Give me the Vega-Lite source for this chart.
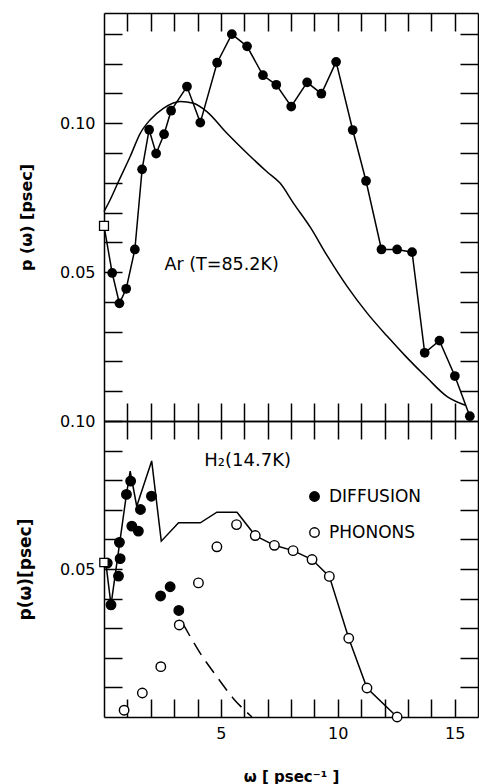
{
  "$schema": "https://vega.github.io/schema/vega-lite/v6.json",
  "padding": {"left": 16, "top": 12, "right": 1, "bottom": 0},
  "background": "white",
  "config": {
    "view": {"stroke": null},
    "font": "DejaVu Sans",
    "axis": {
      "domainColor": "black", "domainWidth": 1.5,
      "tickColor": "black", "tickWidth": 1.5, "tickSize": -18,
      "grid": false, "labelFont": "DejaVu Sans", "labelFontSize": 16,
      "labelColor": "black", "titleColor": "black", "labelPadding": 27,
      "titleFont": "DejaVu Sans", "titleFontSize": 16, "titleFontWeight": "bold"
    }
  },
  "datasets": {
    "ar_exp": [
      {"w": 0.0, "p": 0.0655, "marker": "square"},
      {"w": 0.35, "p": 0.0497, "marker": "circle"},
      {"w": 0.66, "p": 0.0395, "marker": "circle"},
      {"w": 0.95, "p": 0.0444, "marker": "circle"},
      {"w": 1.32, "p": 0.0576, "marker": "circle"},
      {"w": 1.63, "p": 0.0845, "marker": "circle"},
      {"w": 1.93, "p": 0.0978, "marker": "circle"},
      {"w": 2.23, "p": 0.0898, "marker": "circle"},
      {"w": 2.57, "p": 0.0963, "marker": "circle"},
      {"w": 2.87, "p": 0.1042, "marker": "circle"},
      {"w": 3.55, "p": 0.1123, "marker": "circle"},
      {"w": 4.12, "p": 0.1002, "marker": "circle"},
      {"w": 4.84, "p": 0.1203, "marker": "circle"},
      {"w": 5.47, "p": 0.1299, "marker": "circle"},
      {"w": 6.12, "p": 0.1258, "marker": "circle"},
      {"w": 6.80, "p": 0.1161, "marker": "circle"},
      {"w": 7.37, "p": 0.1129, "marker": "circle"},
      {"w": 8.01, "p": 0.1056, "marker": "circle"},
      {"w": 8.69, "p": 0.1137, "marker": "circle"},
      {"w": 9.30, "p": 0.1099, "marker": "circle"},
      {"w": 9.93, "p": 0.1206, "marker": "circle"},
      {"w": 10.64, "p": 0.0977, "marker": "circle"},
      {"w": 11.21, "p": 0.0806, "marker": "circle"},
      {"w": 11.87, "p": 0.0576, "marker": "circle"},
      {"w": 12.54, "p": 0.0576, "marker": "circle"},
      {"w": 13.18, "p": 0.0567, "marker": "circle"},
      {"w": 13.72, "p": 0.0229, "marker": "circle"},
      {"w": 14.35, "p": 0.0270, "marker": "circle"},
      {"w": 15.01, "p": 0.0151, "marker": "circle"},
      {"w": 15.65, "p": 0.0016, "marker": "circle"}
    ],
    "ar_theory": [
      {"w": 0.0, "p": 0.0703},
      {"w": 0.26, "p": 0.0742},
      {"w": 0.62, "p": 0.0804},
      {"w": 1.12, "p": 0.0888},
      {"w": 1.55, "p": 0.0966},
      {"w": 1.97, "p": 0.1011},
      {"w": 2.54, "p": 0.1050},
      {"w": 3.26, "p": 0.1073},
      {"w": 3.83, "p": 0.1067},
      {"w": 4.40, "p": 0.1039},
      {"w": 5.26, "p": 0.0966},
      {"w": 6.12, "p": 0.0899},
      {"w": 6.97, "p": 0.0837},
      {"w": 7.54, "p": 0.0798},
      {"w": 8.11, "p": 0.0731},
      {"w": 8.83, "p": 0.0650},
      {"w": 9.54, "p": 0.0556},
      {"w": 10.40, "p": 0.0452},
      {"w": 11.25, "p": 0.0363},
      {"w": 12.11, "p": 0.0285},
      {"w": 12.97, "p": 0.0212},
      {"w": 13.82, "p": 0.0145},
      {"w": 14.68, "p": 0.0082},
      {"w": 15.46, "p": 0.0053}
    ],
    "h2_line": [
      {"w": 0.08, "p": 0.0520},
      {"w": 0.30, "p": 0.0379},
      {"w": 0.96, "p": 0.0752},
      {"w": 1.12, "p": 0.0831},
      {"w": 1.40, "p": 0.0712},
      {"w": 2.04, "p": 0.0865},
      {"w": 2.45, "p": 0.0594},
      {"w": 3.19, "p": 0.0656},
      {"w": 4.12, "p": 0.0656},
      {"w": 4.83, "p": 0.0692},
      {"w": 5.69, "p": 0.0692},
      {"w": 6.47, "p": 0.0613},
      {"w": 7.29, "p": 0.0580},
      {"w": 8.09, "p": 0.0562},
      {"w": 8.90, "p": 0.0532},
      {"w": 9.64, "p": 0.0475},
      {"w": 10.47, "p": 0.0266},
      {"w": 11.25, "p": 0.0098},
      {"w": 12.54, "p": 0.0}
    ],
    "h2_dash": [
      {"w": 3.38, "p": 0.0315},
      {"w": 4.12, "p": 0.0215},
      {"w": 4.83, "p": 0.0136},
      {"w": 5.54, "p": 0.0062},
      {"w": 6.33, "p": 0.0}
    ],
    "h2_points": [
      {"w": 0.14, "p": 0.0520, "type": "DIFFUSION"},
      {"w": 0.30, "p": 0.0379, "type": "DIFFUSION"},
      {"w": 0.62, "p": 0.0476, "type": "DIFFUSION"},
      {"w": 0.69, "p": 0.0535, "type": "DIFFUSION"},
      {"w": 0.66, "p": 0.0590, "type": "DIFFUSION"},
      {"w": 0.96, "p": 0.0752, "type": "DIFFUSION"},
      {"w": 1.14, "p": 0.0797, "type": "DIFFUSION"},
      {"w": 1.19, "p": 0.0645, "type": "DIFFUSION"},
      {"w": 1.47, "p": 0.0628, "type": "DIFFUSION"},
      {"w": 1.56, "p": 0.0701, "type": "DIFFUSION"},
      {"w": 2.03, "p": 0.0746, "type": "DIFFUSION"},
      {"w": 2.42, "p": 0.0409, "type": "DIFFUSION"},
      {"w": 2.83, "p": 0.0440, "type": "DIFFUSION"},
      {"w": 3.20, "p": 0.0360, "type": "DIFFUSION"},
      {"w": 0.86, "p": 0.0023, "type": "PHONONS"},
      {"w": 1.64, "p": 0.0081, "type": "PHONONS"},
      {"w": 2.43, "p": 0.0170, "type": "PHONONS"},
      {"w": 3.22, "p": 0.0311, "type": "PHONONS"},
      {"w": 4.04, "p": 0.0453, "type": "PHONONS"},
      {"w": 4.83, "p": 0.0575, "type": "PHONONS"},
      {"w": 5.67, "p": 0.0650, "type": "PHONONS"},
      {"w": 6.47, "p": 0.0613, "type": "PHONONS"},
      {"w": 7.29, "p": 0.0580, "type": "PHONONS"},
      {"w": 8.09, "p": 0.0562, "type": "PHONONS"},
      {"w": 8.90, "p": 0.0532, "type": "PHONONS"},
      {"w": 9.64, "p": 0.0475, "type": "PHONONS"},
      {"w": 10.47, "p": 0.0266, "type": "PHONONS"},
      {"w": 11.25, "p": 0.0098, "type": "PHONONS"},
      {"w": 12.54, "p": 0.0, "type": "PHONONS"}
    ],
    "h2_square": [
      {"w": 0.0, "p": 0.0522}
    ]
  },
  "resolve": {"scale": {"fill": "independent"}},
  "spacing": 0,
  "bounds": "flush",
  "vconcat": [
    {
      "width": 374,
      "height": 408,
      "resolve": {"axis": {"x": "independent", "y": "independent"}},
      "layer": [
        {
          "data": {"name": "ar_exp"},
          "mark": {"type": "line", "color": "black", "strokeWidth": 1.5},
          "encoding": {
            "x": {"field": "w", "type": "quantitative", "scale": {"domain": [0, 16], "nice": false},
                  "axis": {"orient": "bottom", "values": [1,2,3,4,5,6,7,8,9,10,11,12,13,14,15], "labels": false, "title": null}},
            "y": {"field": "p", "type": "quantitative", "scale": {"domain": [0, 0.137], "nice": false},
                  "axis": {"orient": "left", "values": [0.01,0.02,0.03,0.04,0.05,0.06,0.07,0.08,0.09,0.1,0.11,0.12,0.13],
                           "format": ".2f", "labelExpr": "datum.label == '0.05' || datum.label == '0.10' ? datum.label : ''",
                           "title": "p (ω) [psec]", "titlePadding": 25}}
          }
        },
        {
          "data": {"name": "ar_theory"},
          "mark": {"type": "line", "color": "black", "strokeWidth": 1.5, "interpolate": "monotone"},
          "encoding": {
            "x": {"field": "w", "type": "quantitative",
                  "axis": {"orient": "top", "values": [1,2,3,4,5,6,7,8,9,10,11,12,13,14,15], "labels": false, "title": null}},
            "y": {"field": "p", "type": "quantitative",
                  "axis": {"orient": "right", "values": [0.01,0.02,0.03,0.04,0.05,0.06,0.07,0.08,0.09,0.1,0.11,0.12,0.13], "labels": false, "title": null}}
          }
        },
        {
          "data": {"name": "ar_exp"},
          "transform": [{"filter": "datum.marker == 'circle'"}],
          "mark": {"type": "point", "shape": "circle", "filled": true, "color": "black", "size": 95, "opacity": 1},
          "encoding": {
            "x": {"field": "w", "type": "quantitative", "axis": null},
            "y": {"field": "p", "type": "quantitative", "axis": null}
          }
        },
        {
          "data": {"name": "ar_exp"},
          "transform": [{"filter": "datum.marker == 'square'"}],
          "mark": {"type": "point", "shape": "square", "filled": true, "fill": "white", "stroke": "black", "strokeWidth": 1.3, "size": 80, "opacity": 1},
          "encoding": {
            "x": {"field": "w", "type": "quantitative", "axis": null},
            "y": {"field": "p", "type": "quantitative", "axis": null}
          }
        },
        {
          "data": {"values": [{}]},
          "mark": {"type": "text", "align": "left", "baseline": "middle", "fontSize": 17.5, "color": "black", "font": "DejaVu Sans"},
          "encoding": {
            "x": {"datum": 2.59, "type": "quantitative", "axis": null},
            "y": {"datum": 0.0524, "type": "quantitative", "axis": null},
            "text": {"value": "Ar (T=85.2K)"}
          }
        }
      ]
    },
    {
      "width": 374,
      "height": 296,
      "resolve": {"axis": {"x": "independent", "y": "independent"}},
      "layer": [
        {
          "data": {"name": "h2_line"},
          "mark": {"type": "line", "color": "black", "strokeWidth": 1.5},
          "encoding": {
            "x": {"field": "w", "type": "quantitative", "scale": {"domain": [0, 16], "nice": false},
                  "axis": {"orient": "bottom", "values": [1,2,3,4,5,6,7,8,9,10,11,12,13,14,15],
                           "labelExpr": "datum.value % 5 == 0 ? datum.label : ''", "labelPadding": 26,
                           "title": "ω [ psec⁻¹ ]", "titleFontSize": 15, "titlePadding": 28}},
            "y": {"field": "p", "type": "quantitative", "scale": {"domain": [0, 0.1], "nice": false},
                  "axis": {"orient": "left", "values": [0.01,0.02,0.03,0.04,0.05,0.06,0.07,0.08,0.09,0.1],
                           "format": ".2f", "labelExpr": "datum.label == '0.05' || datum.label == '0.10' ? datum.label : ''",
                           "title": "p(ω)[psec]", "titleFontSize": 17, "titlePadding": 25}}
          }
        },
        {
          "data": {"name": "h2_dash"},
          "mark": {"type": "line", "color": "black", "strokeWidth": 1.5, "strokeDash": [14, 8], "interpolate": "monotone"},
          "encoding": {
            "x": {"field": "w", "type": "quantitative",
                  "axis": {"orient": "top", "values": [1,2,3,4,5,6,7,8,9,10,11,12,13,14,15], "labels": false, "title": null}},
            "y": {"field": "p", "type": "quantitative",
                  "axis": {"orient": "right", "values": [0.01,0.02,0.03,0.04,0.05,0.06,0.07,0.08,0.09], "labels": false, "title": null}}
          }
        },
        {
          "data": {"name": "h2_points"},
          "mark": {"type": "point", "shape": "circle", "filled": true, "stroke": "black", "strokeWidth": 1.4, "size": 90, "opacity": 1},
          "encoding": {
            "x": {"field": "w", "type": "quantitative", "axis": null},
            "y": {"field": "p", "type": "quantitative", "axis": null},
            "fill": {"field": "type", "type": "nominal",
                     "scale": {"domain": ["DIFFUSION", "PHONONS"], "range": ["black", "white"]},
                     "legend": {"orient": "none", "legendX": 202, "legendY": 67, "title": null, "padding": 0,
                                "labelFontSize": 17, "labelFont": "DejaVu Sans", "labelColor": "black",
                                "symbolType": "circle", "symbolSize": 90, "symbolStrokeColor": "black",
                                "symbolStrokeWidth": 1.4, "rowPadding": 18, "labelOffset": 6}}
          }
        },
        {
          "data": {"name": "h2_square"},
          "mark": {"type": "point", "shape": "square", "filled": true, "fill": "white", "stroke": "black", "strokeWidth": 1.3, "size": 70, "opacity": 1},
          "encoding": {
            "x": {"field": "w", "type": "quantitative", "axis": null},
            "y": {"field": "p", "type": "quantitative", "axis": null}
          }
        },
        {
          "data": {"values": [{}]},
          "mark": {"type": "text", "align": "left", "baseline": "middle", "fontSize": 18, "color": "black", "font": "DejaVu Sans"},
          "encoding": {
            "x": {"datum": 4.29, "type": "quantitative", "axis": null},
            "y": {"datum": 0.0865, "type": "quantitative", "axis": null},
            "text": {"value": "H₂(14.7K)"}
          }
        }
      ]
    }
  ]
}
